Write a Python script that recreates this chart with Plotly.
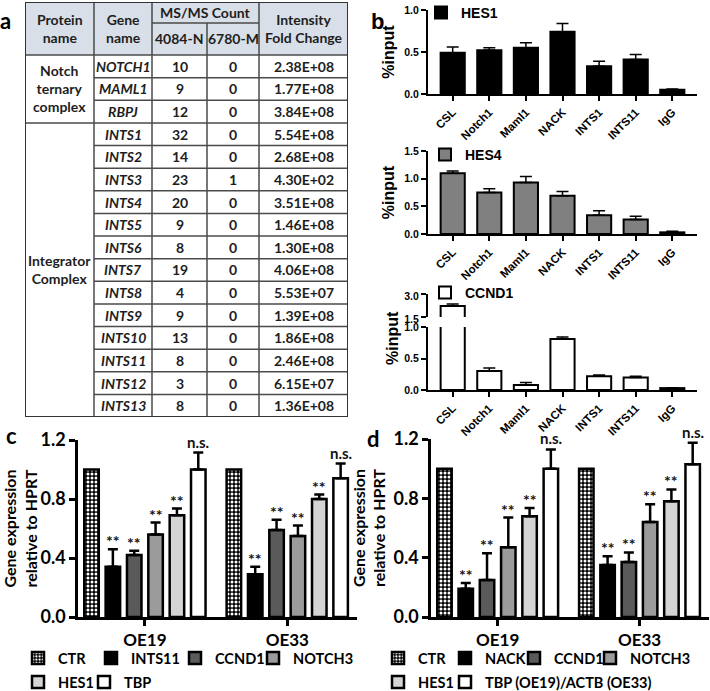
import plotly.graph_objects as go

W, H = 710, 691

# ---------------- data: panel a (table) ----------------
table_groups = ["Notch<br>ternary<br>complex", "Integrator<br>Complex"]
table_group_sizes = [3, 13]
table_genes = ["NOTCH1", "MAML1", "RBPJ", "INTS1", "INTS2", "INTS3", "INTS4", "INTS5",
               "INTS6", "INTS7", "INTS8", "INTS9", "INTS10", "INTS11", "INTS12", "INTS13"]
count_4084N = [10, 9, 12, 32, 14, 23, 20, 9, 8, 19, 4, 9, 13, 8, 3, 8]
count_6780M = [0, 0, 0, 0, 0, 1, 0, 0, 0, 0, 0, 0, 0, 0, 0, 0]
fold_change = ["2.38E+08", "1.77E+08", "3.84E+08", "5.54E+08", "2.68E+08", "4.30E+02",
               "3.51E+08", "1.46E+08", "1.30E+08", "4.06E+08", "5.53E+07", "1.39E+08",
               "1.86E+08", "2.46E+08", "6.15E+07", "1.36E+08"]

# ---------------- data: panel b (ChIP) ----------------
chip_targets = ["CSL", "Notch1", "Maml1", "NACK", "INTS1", "INTS11", "IgG"]
hes1_input = [0.49, 0.52, 0.55, 0.74, 0.33, 0.41, 0.05]
hes1_err = [0.07, 0.03, 0.06, 0.10, 0.06, 0.06, 0.01]
hes4_input = [1.10, 0.75, 0.93, 0.69, 0.34, 0.26, 0.03]
hes4_err = [0.04, 0.07, 0.11, 0.08, 0.08, 0.06, 0.02]
ccnd1_input = [2.22, 0.30, 0.08, 0.81, 0.22, 0.20, 0.03]
ccnd1_err = [0.13, 0.05, 0.04, 0.03, 0.02, 0.02, 0.005]

# ---------------- data: panels c, d ----------------
cell_lines = ["OE19", "OE33"]
c_genes = ["CTR", "INTS11", "CCND1", "NOTCH3", "HES1", "TBP"]
c_values = [[1.0, 1.0], [0.34, 0.29], [0.42, 0.59], [0.56, 0.55], [0.69, 0.80], [1.0, 0.94]]
c_errors = [[0, 0], [0.12, 0.05], [0.03, 0.07], [0.08, 0.07], [0.045, 0.03], [0.115, 0.10]]
c_marks = [["", ""], ["**", "**"], ["**", "**"], ["**", "**"], ["**", "**"], ["n.s.", "n.s."]]

d_genes = ["CTR", "NACK", "CCND1", "NOTCH3", "HES1", "TBP (OE19)/ACTB (OE33)"]
d_values = [[1.0, 1.0], [0.19, 0.35], [0.25, 0.37], [0.47, 0.64], [0.68, 0.78], [1.0, 1.03]]
d_errors = [[0, 0], [0.04, 0.06], [0.18, 0.065], [0.20, 0.12], [0.055, 0.08], [0.13, 0.145]]
d_marks = [["", ""], ["**", "**"], ["**", "**"], ["**", "**"], ["**", "**"], ["n.s.", "n.s."]]

# ---------------- style ----------------
CAL = "Lato"
ARI = "Liberation Sans"
BARGAP = 0.1
BARGROUPGAP = 0.32
gene_fills = ["black", "black", "#5a5a5a", "#9b9b9b", "#d4d4d4", "white"]
ctr_pattern = dict(shape=".", bgcolor="black", fgcolor="white", size=4, solidity=0.45)


def xd(a, b):
    return [a / W, b / W]


def yd(top, bot):
    return [1 - bot / H, 1 - top / H]


fig = go.Figure()
annotations = []
shapes = []

# ================= panel a : table =================
fig.add_trace(go.Scatter(x=[], y=[], xaxis="x", yaxis="y", showlegend=False))
col_edges = [0, 69, 127, 182, 234, 323]
head_mid = 21
head_h = 53
n_rows = len(table_genes)
row_h = (415 - head_h) / n_rows
line_c = "#4a4a4a"
txt_font = dict(family=CAL, size=14, color="#1e1e1e", weight="bold")

shapes.append(dict(type="rect", xref="x", yref="y", x0=0, x1=col_edges[-1], y0=0, y1=head_h,
                   fillcolor="#d9dfe8", line=dict(width=0), layer="below"))
shapes.append(dict(type="line", xref="x", yref="y", x0=col_edges[2], x1=col_edges[4],
                   y0=head_mid, y1=head_mid, line=dict(color=line_c, width=1.5)))
shapes.append(dict(type="line", xref="x", yref="y", x0=0, x1=col_edges[-1],
                   y0=head_h, y1=head_h, line=dict(color=line_c, width=1.5)))
for k in range(1, n_rows):
    yy = head_h + k * row_h
    shapes.append(dict(type="line", xref="x", yref="y", x0=col_edges[1], x1=col_edges[-1],
                       y0=yy, y1=yy, line=dict(color=line_c, width=1.5)))
acc = 0
for gsz in table_group_sizes[:-1]:
    acc += gsz
    yy = head_h + acc * row_h
    shapes.append(dict(type="line", xref="x", yref="y", x0=0, x1=col_edges[1],
                       y0=yy, y1=yy, line=dict(color=line_c, width=1.5)))
for ce in [col_edges[1], col_edges[2], col_edges[4]]:
    shapes.append(dict(type="line", xref="x", yref="y", x0=ce, x1=ce, y0=0, y1=415,
                       line=dict(color=line_c, width=1.5)))
shapes.append(dict(type="line", xref="x", yref="y", x0=col_edges[3], x1=col_edges[3],
                   y0=head_mid, y1=415, line=dict(color=line_c, width=1.5)))
shapes.append(dict(type="rect", xref="x", yref="y", x0=0, x1=col_edges[-1], y0=0, y1=415,
                   line=dict(color="#333333", width=2)))


def cx(i):
    return (col_edges[i] + col_edges[i + 1]) / 2


def tab_text(x, y, text):
    annotations.append(dict(xref="x", yref="y", x=x, y=y, text=text, showarrow=False,
                            font=txt_font, xanchor="center", yanchor="middle"))


tab_text(cx(0), head_h / 2, "Protein<br>name")
tab_text(cx(1), head_h / 2, "Gene<br>name")
tab_text((col_edges[2] + col_edges[4]) / 2, head_mid / 2, "MS/MS Count")
tab_text(cx(2), (head_mid + head_h) / 2, "4084-N")
tab_text(cx(3), (head_mid + head_h) / 2, "6780-M")
tab_text(cx(4), head_h / 2, "Intensity<br>Fold Change")
acc = 0
for gname, gsz in zip(table_groups, table_group_sizes):
    tab_text(cx(0), head_h + (acc + gsz / 2) * row_h, gname)
    acc += gsz
for r in range(n_rows):
    yc = head_h + (r + 0.5) * row_h
    tab_text(cx(1), yc, "<i>" + table_genes[r] + "</i>")
    tab_text(cx(2), yc, str(count_4084N[r]))
    tab_text(cx(3), yc, str(count_6780M[r]))
    tab_text(cx(4), yc, fold_change[r])

# ================= panel b : ChIP =================
bx_font = dict(family=ARI, size=11.5, color="black", weight="bold")
by_font = dict(family=ARI, size=10.5, color="black", weight="bold")
chip_sets = [
    ("HES1", hes1_input, hes1_err, "black", "x2", "y2", "legend"),
    ("HES4", hes4_input, hes4_err, "#808080", "x3", "y3", "legend2"),
    ("CCND1", ccnd1_input, ccnd1_err, "white", "x4", "y4", "legend3"),
]
for name, vals, errs, col, xa, ya, lg in chip_sets:
    fig.add_trace(go.Bar(
        x=chip_targets, y=vals, name=name, xaxis=xa, yaxis=ya, legend=lg, width=0.66,
        marker=dict(color=col, line=dict(color="black", width=2)),
        error_y=dict(type="data", array=errs, symmetric=False, arrayminus=[0] * len(errs),
                     color="black", thickness=1.5, width=6)))
# upper segment of the broken CCND1 axis
fig.add_trace(go.Bar(
    x=chip_targets, y=ccnd1_input, name="CCND1", xaxis="x5", yaxis="y5", showlegend=False,
    width=0.66, marker=dict(color="white", line=dict(color="black", width=2)),
    error_y=dict(type="data", array=ccnd1_err, symmetric=False, arrayminus=[0] * 7,
                 color="black", thickness=1.5, width=6)))

# ================= panels c, d =================
slot = (1 - BARGAP) / len(c_genes)
for genes, vals, errs, marks, xa, ya, lg0 in [
        (c_genes, c_values, c_errors, c_marks, "x6", "y6", 4),
        (d_genes, d_values, d_errors, d_marks, "x7", "y7", 10)]:
    for i, g in enumerate(genes):
        mk = dict(color=gene_fills[i], line=dict(color="black", width=2.5))
        if i == 0:
            mk["pattern"] = ctr_pattern
        fig.add_trace(go.Bar(
            x=cell_lines, y=vals[i], name=g, xaxis=xa, yaxis=ya, legend=f"legend{lg0 + i}",
            marker=mk,
            error_y=dict(type="data", array=errs[i], symmetric=False, arrayminus=[0, 0],
                         color="black", thickness=2.5, width=5, visible=(i > 0))))
        for j in range(len(cell_lines)):
            if marks[i][j]:
                annotations.append(dict(
                    xref=xa, yref=ya, x=j - (1 - BARGAP) / 2 + (i + 0.5) * slot,
                    y=vals[i][j] + errs[i][j], text=marks[i][j], showarrow=False,
                    xanchor="center", yanchor="bottom",
                    yshift=-3 if marks[i][j] == "**" else 0,
                    font=dict(family=CAL, size=16 if marks[i][j] == "**" else 15,
                              color="#111111", weight="bold")))

# ---------------- axes ----------------
layout_axes = {}
layout_axes["xaxis"] = dict(domain=xd(25, 348), range=[0, 323], visible=False, anchor="y")
layout_axes["yaxis"] = dict(domain=yd(2, 417), range=[415, 0], visible=False, anchor="x")

bx = dict(range=[-0.675, 6.675], showline=True, linecolor="black", linewidth=2,
          ticks="outside", ticklen=5, tickwidth=1.5, tickcolor="black", tickangle=-45,
          tickfont=bx_font, showgrid=False, zeroline=False, domain=xd(428, 697),
          type="category", automargin=False)
by = dict(showline=True, linecolor="black", linewidth=2, ticks="outside", ticklen=5,
          tickwidth=1.5, tickcolor="black", tickfont=by_font, showgrid=False,
          zeroline=False, tickformat=".1f", automargin=False)
b_title = dict(text="%input", font=dict(family=ARI, size=16, color="black", weight="bold"),
               standoff=6)
layout_axes["xaxis2"] = dict(bx, anchor="y2")
layout_axes["yaxis2"] = dict(by, anchor="x2", domain=yd(10, 94), range=[0, 1.0],
                             tickvals=[0, 0.5, 1.0], title=b_title)
layout_axes["xaxis3"] = dict(bx, anchor="y3")
layout_axes["yaxis3"] = dict(by, anchor="x3", domain=yd(151, 234), range=[0, 1.5],
                             tickvals=[0, 0.5, 1.0, 1.5], title=b_title)
layout_axes["xaxis4"] = dict(bx, anchor="y4")
layout_axes["yaxis4"] = dict(by, anchor="x4", domain=yd(327, 390), range=[0, 1.0],
                             tickvals=[0, 0.5, 1.0])
layout_axes["xaxis5"] = dict(bx, anchor="y5", matches="x4", visible=False)
layout_axes["yaxis5"] = dict(by, anchor="x5", domain=yd(294, 317), range=[1.5, 3.0],
                             tickvals=[1.5, 3.0], ticklabelshift=2)
annotations.append(dict(xref="paper", yref="paper", x=392 / W, y=1 - 338 / H, text="%input",
                        textangle=-90, showarrow=False, xanchor="center", yanchor="middle",
                        font=dict(family=ARI, size=16, color="black", weight="bold")))

cxa = dict(type="category", range=[-0.47, 1.49], showline=True, linecolor="black",
           linewidth=2.5, ticks="outside", ticklen=6, tickwidth=2.5, tickcolor="black",
           tickfont=dict(family=CAL, size=17, color="black", weight="bold"),
           showgrid=False, zeroline=False, automargin=False)
cya = dict(range=[0, 1.2], tickvals=[0, 0.4, 0.8, 1.2], tickformat=".1f", showline=True,
           linecolor="black", linewidth=2.5, ticks="outside", ticklen=6, tickwidth=2.5,
           tickcolor="black", tickfont=dict(family=CAL, size=18, color="black", weight="bold"),
           showgrid=False, zeroline=False, automargin=False,
           title=dict(text="Gene expression<br>relative to HPRT", standoff=4,
                      font=dict(family=CAL, size=16, color="black", weight="bold")))
layout_axes["xaxis6"] = dict(cxa, anchor="y6", domain=xd(78, 357))
layout_axes["yaxis6"] = dict(cya, anchor="x6", domain=yd(440, 617))
layout_axes["xaxis7"] = dict(cxa, anchor="y7", domain=xd(431, 709))
layout_axes["yaxis7"] = dict(cya, anchor="x7", domain=yd(439, 617))

# ---------------- legends ----------------
legends = {}


def leg(sym_left, yc, size, family):
    return dict(x=(sym_left - 17) / W, y=1 - yc / H, xanchor="left", yanchor="middle",
                orientation="h", bgcolor="rgba(0,0,0,0)", borderwidth=0, itemwidth=30,
                font=dict(family=family, size=size, color="black", weight="bold"))


legends["legend"] = leg(438, 13, 14, ARI)
legends["legend2"] = leg(442, 155, 14, ARI)
legends["legend3"] = leg(442, 293, 14, ARI)
c_leg_pos = [(35, 658), (108, 658), (192, 658), (270, 658), (35, 682), (101, 682)]
d_leg_pos = [(395, 658), (462, 658), (531, 658), (607, 658), (395, 682), (462, 682)]
for i, (sx, sy) in enumerate(c_leg_pos):
    legends[f"legend{4 + i}"] = leg(sx, sy, 14.5, CAL)
for i, (sx, sy) in enumerate(d_leg_pos):
    legends[f"legend{10 + i}"] = leg(sx, sy, 14.5, CAL)

# ---------------- panel letters ----------------
for letter, px, py, fam in [("a", 6, 20, CAL), ("b", 378, 22, ARI), ("c", 11, 435, CAL),
                            ("d", 373, 438, CAL)]:
    annotations.append(dict(xref="paper", yref="paper", x=px / W, y=1 - py / H, text=letter,
                            showarrow=False, xanchor="center", yanchor="middle",
                            font=dict(family=fam, size=22, color="black", weight="bold")))

fig.update_layout(
    template="none",
    width=W, height=H, margin=dict(l=0, r=0, t=0, b=0, pad=0, autoexpand=False),
    paper_bgcolor="white", plot_bgcolor="white",
    barmode="group", bargap=BARGAP, bargroupgap=BARGROUPGAP,
    font=dict(family=CAL, color="black"),
    annotations=annotations, shapes=shapes,
    **layout_axes, **legends)

fig.write_html("out.html",
               config={"displayModeBar": False},
               post_script="document.body.style.margin='0px';"
                           "document.body.style.padding='0px';"
                           "document.documentElement.style.overflow='hidden';")
